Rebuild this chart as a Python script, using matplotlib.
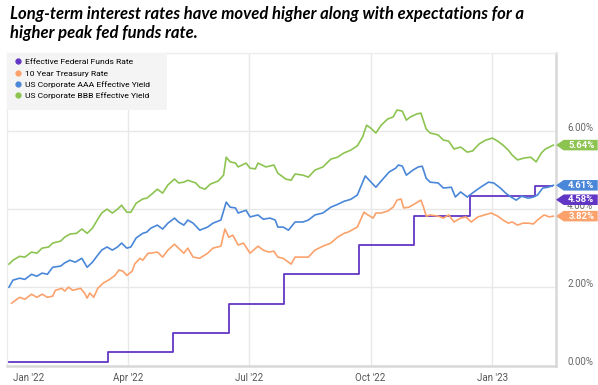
import numpy as np
import pandas as pd
import matplotlib.pyplot as plt
import matplotlib.transforms as mtransforms
from matplotlib.lines import Line2D
from matplotlib.patches import Polygon, Rectangle

plt.rcParams['font.family'] = ['Roboto', 'DejaVu Sans']

# ---------- data (days counted from 2022-01-01) ----------
start = pd.Timestamp('2022-01-01')

fed_dates = ['2022-01-01', '2022-03-17', '2022-05-05', '2022-06-16', '2022-07-28',
             '2022-09-22', '2022-11-03', '2022-12-15', '2023-02-02', '2023-02-15']
fed_rate = [0.08, 0.33, 0.83, 1.58, 2.33, 3.08, 3.83, 4.33, 4.58, 4.58]

tsy_days = [2, 8, 12, 17, 21, 25, 29, 33, 35, 40, 42, 45, 48, 54, 57, 59, 61, 64, 67, 71,
            76, 80, 83, 86, 89, 93, 95, 99, 101, 105,
            107, 112, 116, 120, 125, 128, 132, 135, 139, 144, 150, 154, 160, 163, 166, 169, 173,
            177, 182, 188, 192, 196, 200, 203, 207, 213, 216, 222, 226, 231, 237, 243, 248, 253,
            256, 263, 268, 271, 275, 277, 281, 286, 290, 293, 296, 298, 302, 307, 311, 313, 315,
            318, 324, 328, 332, 336, 341, 345, 349, 354, 359, 364, 369, 373, 377, 380, 384, 388,
            392, 396, 399, 404, 408, 411]
tsy_10y = [1.59, 1.74, 1.69, 1.82, 1.74, 1.82, 1.74, 1.77, 1.92, 1.97, 1.90, 2.00, 1.92, 1.97,
           1.85, 1.72, 1.85, 1.74, 1.97, 2.10, 2.20, 2.30, 2.44, 2.41, 2.30, 2.41, 2.60, 2.74,
           2.69, 2.87,
           2.87, 2.90, 2.77, 2.95, 3.10, 3.00, 2.87, 3.00, 2.77, 2.74, 2.87, 3.00, 3.05, 3.49,
           3.28, 3.33, 3.08, 3.13, 2.87, 3.05, 2.95, 2.90, 2.92, 2.77, 2.74, 2.59, 2.77, 2.77,
           2.77, 2.95, 3.05, 3.13, 3.28, 3.38,
           3.41, 3.54, 3.92, 3.85, 3.77, 3.90, 3.90, 3.95, 4.05, 4.23, 4.26, 4.03, 4.05, 4.15,
           4.23, 4.05, 3.82, 3.85, 3.82, 3.77, 3.85, 3.67, 3.77, 3.80, 3.67, 3.80, 3.85, 3.90,
           3.82, 3.72, 3.64, 3.67, 3.59, 3.64, 3.64, 3.62, 3.72, 3.85, 3.80, 3.82]

aaa_days = [0, 3, 8, 12, 17, 21, 25, 29, 33, 39, 42, 46, 50, 55, 59, 63, 67, 70, 74, 78,
            82, 85, 89, 92, 96, 101, 104,
            107, 112, 116, 120, 125, 128, 132, 135, 139, 144, 150, 154, 160, 164, 167, 171, 173,
            179, 182, 188, 192, 197, 201, 203, 207, 211, 216, 222, 226, 231, 237, 243, 248, 253,
            258, 263,
            269, 272, 277, 281, 287, 292, 294, 297, 300, 305, 309, 312, 315, 318, 324, 328, 334,
            337, 341, 346, 351, 356, 362, 366, 371, 375, 379, 383, 387, 392, 396, 399, 403, 407,
            411]
aaa_yield = [2.00, 2.18, 2.23, 2.20, 2.33, 2.28, 2.36, 2.33, 2.51, 2.54, 2.62, 2.69, 2.64,
             2.74, 2.51, 2.64, 2.82, 2.95, 3.03, 2.95, 3.03, 3.13, 3.00, 3.03, 3.26, 3.38, 3.41,
             3.51, 3.59, 3.49, 3.64, 3.77, 3.67, 3.59, 3.72, 3.64, 3.46, 3.54, 3.64, 3.72, 4.18,
             4.05, 4.03, 3.90, 3.97, 3.80, 3.85, 3.74, 3.77, 3.72, 3.54, 3.54, 3.46, 3.67, 3.67,
             3.72, 3.85, 3.90, 4.05, 4.12, 4.20, 4.25, 4.36,
             4.85, 4.74, 4.56, 4.72, 4.95, 5.05, 5.13, 5.10, 4.87, 5.00, 5.08, 5.10, 4.79, 4.69,
             4.67, 4.54, 4.56, 4.31, 4.44, 4.31, 4.44, 4.56, 4.69, 4.67, 4.54, 4.41, 4.31, 4.23,
             4.33, 4.28, 4.31, 4.36, 4.54, 4.56, 4.61]

bbb_days = [0, 3, 8, 12, 17, 21, 25, 30, 33, 39, 42, 46, 51, 55, 59, 63, 67, 70, 74, 78,
            82, 85, 89, 92, 96, 101, 104,
            107, 112, 116, 120, 125, 128, 132, 135, 141, 144, 148, 152, 158, 162, 164, 167, 171,
            173, 179, 182, 186, 188, 194, 200, 203, 209, 213, 216, 222, 226, 231, 237, 243, 248,
            253,
            258, 263, 267, 270, 273, 277, 281, 286, 290, 293, 297, 300, 303, 308, 311, 315, 318,
            324, 328, 332, 336, 341, 346, 350, 355, 360, 365, 369, 373, 377, 380, 384, 389, 394,
            398, 402, 405, 411]
bbb_yield = [2.59, 2.69, 2.79, 2.77, 2.90, 2.87, 3.00, 3.03, 3.13, 3.18, 3.28, 3.36, 3.38,
             3.49, 3.38, 3.51, 3.74, 3.90, 4.00, 3.90, 4.00, 4.10, 3.92, 3.92, 4.15, 4.26, 4.28,
             4.36, 4.51, 4.41, 4.62, 4.77, 4.67, 4.69, 4.74, 4.67, 4.56, 4.51, 4.64, 4.72, 4.87,
             5.33, 5.21, 5.18, 5.08, 5.18, 5.05, 5.03, 5.18, 5.08, 5.13, 4.92, 4.77, 4.74, 4.90,
             4.87, 4.82, 5.00, 5.08, 5.28, 5.33, 5.44,
             5.51, 5.62, 5.85, 6.15, 6.08, 5.95, 6.15, 6.31, 6.36, 6.54, 6.51, 6.28, 6.36, 6.44,
             6.46, 6.05, 5.95, 5.90, 5.77, 5.74, 5.54, 5.59, 5.46, 5.49, 5.67, 5.77, 5.82, 5.74,
             5.64, 5.51, 5.38, 5.26, 5.31, 5.33, 5.21, 5.44, 5.54, 5.64]

series_names = ['Effective Federal Funds Rate', '10 Year Treasury Rate',
                'US Corporate AAA Effective Yield', 'US Corporate BBB Effective Yield']
colors = ['#6236c4', '#fba26c', '#4a87d8', '#8dc451']

tick_dates = ['2022-01-01', '2022-04-01', '2022-07-01', '2022-10-01', '2023-01-01']
tick_labels = ["Jan '22", "Apr '22", "Jul '22", "Oct '22", "Jan '23"]
ytick_vals = [0, 2, 4, 6]


def to_dates(days):
    return start + pd.to_timedelta(days, unit='D')


# ---------- figure ----------
fig = plt.figure(figsize=(5.98, 3.85), dpi=100)
ax = fig.add_axes([7 / 598, 1 - 366 / 385, 549 / 598, 313 / 385])

grid_c = '#e8e8e8'
for d in tick_dates[1:]:
    ax.axvline(pd.Timestamp(d), color=grid_c, lw=1.0, zorder=0)
for v in ytick_vals[1:]:
    ax.axhline(v, color=grid_c, lw=1.0, zorder=0)

ax.plot(pd.to_datetime(fed_dates), fed_rate, drawstyle='steps-post', color=colors[0], lw=1.3, zorder=3)
ax.plot(to_dates(tsy_days), tsy_10y, color=colors[1], lw=1.2, zorder=3)
ax.plot(to_dates(aaa_days), aaa_yield, color=colors[2], lw=1.2, zorder=3)
ax.plot(to_dates(bbb_days), bbb_yield, color=colors[3], lw=1.2, zorder=3)

ax.set_xlim(pd.Timestamp('2021-12-30 12:00'), pd.Timestamp('2023-02-18'))
ax.set_ylim(-0.02, 8.0)

# axes frame
for side in ['top', 'left']:
    ax.spines[side].set_color('#ececec')
    ax.spines[side].set_linewidth(1.0)
for side in ['bottom', 'right']:
    ax.spines[side].set_color('#d8d8d8')
    ax.spines[side].set_linewidth(1.8)

# x ticks
ax.set_xticks(pd.to_datetime(tick_dates))
ax.set_xticklabels(tick_labels)
ax.tick_params(axis='x', length=0, pad=5, labelsize=7, labelcolor='#555555')
ax.get_xticklabels()[0].set_horizontalalignment('left')
ax.get_xticklabels()[0].set_transform(ax.get_xticklabels()[0].get_transform() +
                                      mtransforms.ScaledTranslation(0.04, 0, fig.dpi_scale_trans))

# y ticks on the right, nudged a bit above the gridlines
ax.yaxis.tick_right()
ax.set_yticks(ytick_vals)
ax.set_yticklabels([f'{v:.2f}%' for v in ytick_vals])
ax.tick_params(axis='y', length=0, pad=8, labelsize=7, labelcolor='#666666')
for lab in ax.get_yticklabels():
    lab.set_transform(lab.get_transform() + mtransforms.ScaledTranslation(0, 0.04, fig.dpi_scale_trans))

# legend box
ax.add_patch(Rectangle((0, 0.817), 0.291, 0.183, transform=ax.transAxes,
                       facecolor='#f4f4f4', edgecolor='none', zorder=4))
handles = [Line2D([], [], marker='o', ls='none', color=c, markersize=3.5) for c in colors]
ax.legend(handles, series_names, loc='upper left', bbox_to_anchor=(0.006, 1.0), frameon=False,
          fontsize=6.1, handlelength=0.6, handletextpad=0.5, labelspacing=0.52,
          borderaxespad=0.25)

# value tags at right edge
last_vals = [fed_rate[-1], tsy_10y[-1], aaa_yield[-1], bbb_yield[-1]]
order = np.argsort(last_vals)[::-1]
tag_y = {}
prev = None
for i in order:
    y = last_vals[i]
    if prev is not None and prev - y < 0.37:
        y = prev - 0.37
    tag_y[i] = y
    prev = y

trans = mtransforms.blended_transform_factory(ax.transAxes, ax.transData)
h = 0.135
for i in order:
    y = tag_y[i]
    pts = [(1.0, y), (1.014, y + h), (1.076, y + h), (1.076, y - h), (1.014, y - h)]
    ax.add_patch(Polygon(pts, closed=True, transform=trans, facecolor=colors[i],
                         edgecolor='none', clip_on=False, zorder=6))
    ax.text(1.046, y, f'{last_vals[i]:.2f}%', transform=trans, ha='center', va='center',
            fontsize=6.8, fontweight='bold', color='white', clip_on=False, zorder=7)

# title
fig.text(10 / 598, 1 - 6 / 385,
         'Long-term interest rates have moved higher along with expectations for a\n'
         'higher peak fed funds rate.',
         ha='left', va='top', fontsize=12, fontweight='bold', style='italic',
         family=['Lato', 'DejaVu Sans'], linespacing=1.25)

fig.savefig('out.png', dpi=100)
